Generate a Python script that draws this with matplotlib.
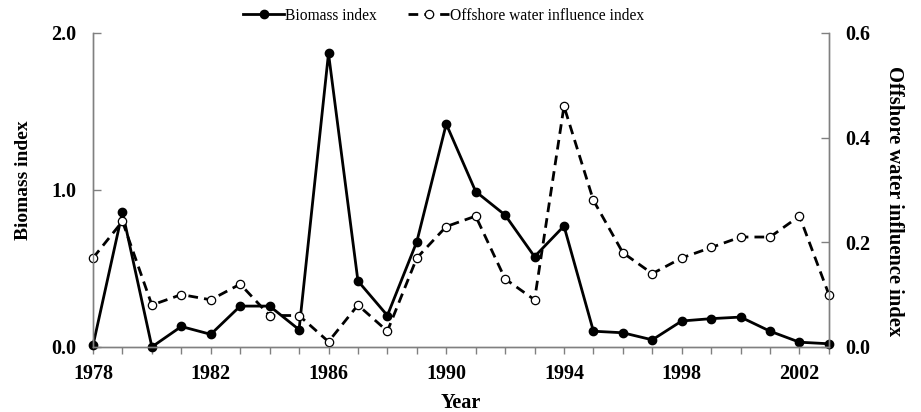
import matplotlib
matplotlib.use("Agg")
import matplotlib.pyplot as plt
from matplotlib.ticker import MultipleLocator, FixedLocator

years = list(range(1978, 2004))
biomass = [0.01, 0.86, 0.00, 0.13, 0.08, 0.26, 0.26, 0.11, 1.87, 0.42, 0.20, 0.67, 1.42,
           0.99, 0.84, 0.575, 0.77, 0.10, 0.09, 0.045, 0.165, 0.18, 0.19, 0.10, 0.03, 0.02]
offshore = [0.17, 0.24, 0.08, 0.10, 0.09, 0.12, 0.06, 0.06, 0.01, 0.08, 0.03, 0.17, 0.23,
            0.25, 0.13, 0.09, 0.46, 0.28, 0.18, 0.14, 0.17, 0.19, 0.21, 0.21, 0.25, 0.10]
x_major = [1978, 1982, 1986, 1990, 1994, 1998, 2002]
left_ticks = [0.0, 1.0, 2.0]
right_ticks = [0.0, 0.2, 0.4, 0.6]

plt.rcParams['font.family'] = ['Liberation Serif', 'DejaVu Serif']

fig = plt.figure(figsize=(9.21, 4.12), dpi=100)
ax = fig.add_axes([0.101, 0.158, 0.799, 0.762])
ax2 = ax.twinx()

spine_col = '#808080'
l1, = ax.plot(years, biomass, color='black', lw=2.0, marker='o', ms=6,
              mfc='black', mec='black', clip_on=False, label='Biomass index')
l2, = ax2.plot(years, offshore, color='black', lw=2.0, ls=(0, (3.5, 2.2)), marker='o', ms=6,
               mfc='white', mec='black', mew=0.9, clip_on=False, label='Offshore water influence index')

ax.set_xlim(1978, 2003)
ax.set_ylim(0, 2.0)
ax2.set_ylim(0, 0.6)

ax.xaxis.set_major_locator(FixedLocator(x_major))
ax.xaxis.set_minor_locator(MultipleLocator(1))
ax.set_yticks(left_ticks)
ax.set_yticklabels([f"{v:.1f}" for v in left_ticks])
ax2.set_yticks(right_ticks)
ax2.set_yticklabels([f"{v:.1f}" for v in right_ticks])

for a in (ax, ax2):
    a.spines['top'].set_visible(False)
    for s in ('left', 'right', 'bottom'):
        a.spines[s].set_color(spine_col)
        a.spines[s].set_linewidth(1.0)

ax.tick_params(axis='x', which='both', direction='out', length=5, color=spine_col, width=1)
ax.tick_params(axis='x', which='major', labelsize=14.5, pad=7)
ax.tick_params(axis='y', direction='in', length=6, color=spine_col, width=1, labelsize=14.5, pad=12)
ax2.tick_params(axis='y', direction='in', length=6, color=spine_col, width=1, labelsize=14.5, pad=12)

for lab in ax.get_xticklabels() + ax.get_yticklabels() + ax2.get_yticklabels():
    lab.set_fontweight('bold')

ax.set_xlabel('Year', fontsize=14.5, fontweight='bold', labelpad=7)
ax.set_ylabel('Biomass index', fontsize=14, fontweight='bold', labelpad=14, y=0.53)
ax2.set_ylabel('Offshore water influence index', fontsize=14.8, fontweight='bold',
               rotation=-90, labelpad=24, y=0.465)

fig.legend(handles=[l1, l2], loc='upper center', bbox_to_anchor=(0.482, 1.015), ncol=2,
           frameon=False, fontsize=11.2, handlelength=2.6, handletextpad=0.1, columnspacing=2.0)

fig.savefig('out.png', dpi=100)
